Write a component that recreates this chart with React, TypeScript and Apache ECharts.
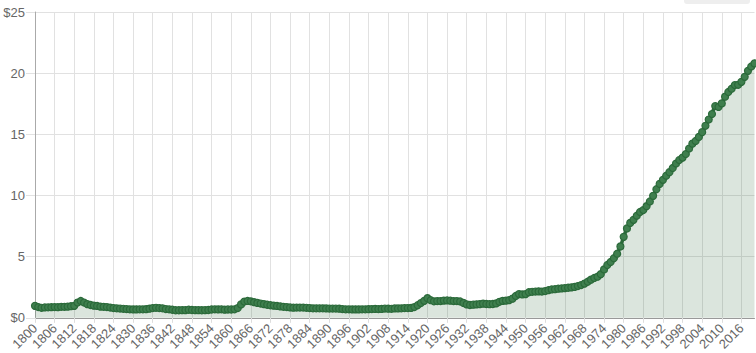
import React, { useEffect, useRef } from "react";
import * as echarts from "echarts";

const startYear = 1800;
const endYear = 2020;
const years: string[] = [];
for (let y = startYear; y <= endYear; y++) years.push(String(y));

// Values, by decade blocks
const v1800s = [0.98, 0.88, 0.82, 0.85, 0.86, 0.87, 0.88, 0.87, 0.9, 0.9];
const v1810s = [0.92, 0.95, 0.98, 1.25, 1.38, 1.25, 1.12, 1.05, 1.0, 0.97];
const v1820s = [0.92, 0.9, 0.88, 0.84, 0.8, 0.78, 0.76, 0.74, 0.72, 0.7];
const v1830s = [0.69, 0.69, 0.7, 0.7, 0.71, 0.75, 0.8, 0.82, 0.8, 0.78];
const v1840s = [0.72, 0.7, 0.66, 0.62, 0.62, 0.63, 0.63, 0.66, 0.64, 0.63];
const v1850s = [0.63, 0.62, 0.63, 0.64, 0.68, 0.7, 0.69, 0.7, 0.67, 0.68];
const v1860s = [0.68, 0.7, 0.8, 1.1, 1.33, 1.38, 1.35, 1.28, 1.22, 1.17];
const v1870s = [1.12, 1.07, 1.03, 1.0, 0.97, 0.94, 0.9, 0.88, 0.85, 0.83];
const v1880s = [0.84, 0.84, 0.84, 0.82, 0.8, 0.78, 0.78, 0.78, 0.78, 0.77];
const v1890s = [0.76, 0.76, 0.76, 0.75, 0.72, 0.7, 0.7, 0.69, 0.69, 0.69];
const v1900s = [0.7, 0.7, 0.71, 0.72, 0.73, 0.72, 0.73, 0.76, 0.75, 0.74];
const v1910s = [0.77, 0.77, 0.78, 0.8, 0.8, 0.81, 0.88, 1.03, 1.21, 1.39];
const v1920s = [1.61, 1.44, 1.35, 1.37, 1.37, 1.41, 1.42, 1.4, 1.37, 1.37];
const v1930s = [1.34, 1.22, 1.1, 1.05, 1.08, 1.1, 1.12, 1.16, 1.13, 1.12];
const v1940s = [1.13, 1.18, 1.31, 1.39, 1.41, 1.45, 1.57, 1.79, 1.94, 1.91];
const v1950s = [1.94, 2.09, 2.13, 2.15, 2.16, 2.15, 2.19, 2.26, 2.32, 2.34];
const v1960s = [2.38, 2.4, 2.43, 2.46, 2.49, 2.53, 2.6, 2.68, 2.8, 2.95];
const v1970s = [3.12, 3.26, 3.36, 3.57, 3.96, 4.32, 4.57, 4.87, 5.24, 5.84];
const v1980s = [6.62, 7.31, 7.76, 8.01, 8.35, 8.65, 8.81, 9.13, 9.51, 9.97];
const v1990s = [10.51, 10.95, 11.28, 11.62, 11.91, 12.25, 12.61, 12.9, 13.1, 13.39];
const v2000s = [13.84, 14.24, 14.46, 14.79, 15.18, 15.7, 16.21, 16.66, 17.31, 17.24];
const v2010s = [17.53, 18.08, 18.46, 18.73, 19.03, 19.05, 19.29, 19.7, 20.19, 20.55];
const v2020s = [20.8];

const values = [
  ...v1800s, ...v1810s, ...v1820s, ...v1830s, ...v1840s, ...v1850s,
  ...v1860s, ...v1870s, ...v1880s, ...v1890s, ...v1900s, ...v1910s,
  ...v1920s, ...v1930s, ...v1940s, ...v1950s, ...v1960s, ...v1970s,
  ...v1980s, ...v1990s, ...v2000s, ...v2010s, ...v2020s,
];

const yMin = 0;
const yMax = 25;
const yStep = 5;

export default function App() {
  const ref = useRef<HTMLDivElement>(null);
  useEffect(() => {
    if (!ref.current) return;
    const chart = echarts.init(ref.current, undefined, { renderer: "svg" });
    const font = "'Liberation Sans', Arial, Helvetica, sans-serif";
    chart.setOption({
      animation: false,
      textStyle: { fontFamily: font },
      grid: { left: 35, right: 1.5, top: 12, bottom: 35, containLabel: false },
      graphic: [
        {
          type: "rect",
          shape: { x: 684, y: -6, width: 66, height: 10, r: 3 },
          style: { fill: "#eeeeee" },
          z: 100,
        },
      ],
      xAxis: {
        type: "category",
        data: years,
        boundaryGap: false,
        axisLine: { show: true, lineStyle: { color: "#999", width: 1 } },
        axisTick: { show: true, interval: 5, length: 5, lineStyle: { color: "#ddd" } },
        axisLabel: {
          interval: 5,
          rotate: 45,
          color: "#666",
          fontSize: 13,
          fontFamily: font,
          margin: 8,
        },
        splitLine: { show: true, interval: 5, lineStyle: { color: "#e1e1e1", width: 1 } },
      },
      yAxis: {
        type: "value",
        min: yMin,
        max: yMax,
        interval: yStep,
        axisLine: { show: true, lineStyle: { color: "#aaa", width: 1 } },
        axisTick: { show: true, length: 9, lineStyle: { color: "#e1e1e1" } },
        axisLabel: {
          color: "#666",
          fontSize: 13,
          fontFamily: font,
          margin: 10,
          formatter: (v: number) => (v === yMin || v === yMax ? "$" + v : String(v)),
        },
        splitLine: { show: true, lineStyle: { color: "#e1e1e1", width: 1 } },
      },
      series: [
        {
          type: "line",
          data: values,
          smooth: 0.3,
          symbol: "circle",
          symbolSize: 7,
          showSymbol: true,
          showAllSymbol: true,
          lineStyle: { color: "#2b6a3a", width: 3.5 },
          itemStyle: { color: "#3f7f4e", borderColor: "#2b6a3a", borderWidth: 1.2 },
          areaStyle: { color: "rgba(40, 100, 55, 0.24)" },
        },
      ],
    });
    return () => chart.dispose();
  }, []);
  return (
    <div
      ref={ref}
      style={{ position: "fixed", left: 0, top: 0, width: 756, height: 353, background: "#fff" }}
    />
  );
}
